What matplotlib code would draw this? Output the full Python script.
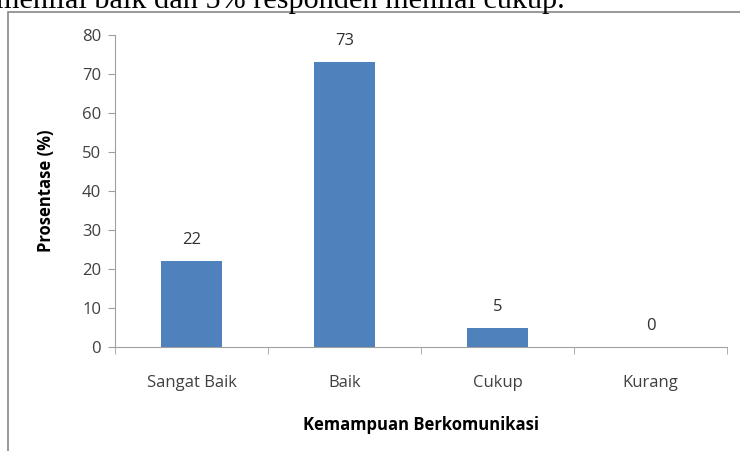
import matplotlib.pyplot as plt
from matplotlib.patches import Rectangle

kategori = ['Sangat Baik', 'Baik', 'Cukup', 'Kurang']
prosentase = [22, 73, 5, 0]
y_ticks = [0, 10, 20, 30, 40, 50, 60, 70, 80]

W, H = 740, 451
fig = plt.figure(figsize=(W / 100, H / 100), dpi=100)

# potongan kalimat dari halaman di atas grafik (terpotong seperti di gambar asli)
fig.text(-4 / W, 1 - 8 / H, 'menilai baik dan 5% responden menilai cukup.',
         family='Liberation Serif', fontsize=21.8, va='baseline', ha='left', color='black')

# bingkai grafik
fig.patches.append(Rectangle((8 / W, -0.1), 1.0, 1 - 12 / H + 0.1, transform=fig.transFigure,
                             fill=False, edgecolor='#909090', linewidth=1.3))

fs = 12
ax = fig.add_axes([115 / W, 1 - 347 / H, (727 - 115) / W, (347 - 35) / H])
x = range(len(kategori))
bars = ax.bar(x, prosentase, width=0.4, color='#4F81BD')
for b, v in zip(bars, prosentase):
    ax.text(b.get_x() + b.get_width() / 2, v + 3.3, str(v), ha='center', va='bottom',
            family='Open Sans', fontsize=fs, color='#303030')

ax.set_xlim(-0.5, len(kategori) - 0.5)
ax.set_ylim(0, 80)
ax.set_yticks(y_ticks)
ax.tick_params(axis='y', labelsize=fs, labelcolor='#404040', color='#a0a0a0',
               length=5, direction='out', pad=5)
ax.set_xticks(list(x))
ax.set_xticklabels(kategori, family='Open Sans', fontsize=fs, color='#404040')
ax.set_xticks([i - 0.5 for i in range(len(kategori) + 1)], minor=True)
ax.tick_params(axis='x', which='major', length=0, pad=20)
ax.tick_params(axis='x', which='minor', length=5, color='#a0a0a0')
for lab in ax.get_yticklabels():
    lab.set_family('Open Sans')

for s in ['top', 'right']:
    ax.spines[s].set_visible(False)
for s in ['left', 'bottom']:
    ax.spines[s].set_color('#a0a0a0')

ax.set_ylabel('Prosentase (%)', family='Open Sans', fontsize=fs, fontweight='bold', labelpad=19)
ax.set_xlabel('Kemampuan Berkomunikasi', family='Open Sans', fontsize=fs, fontweight='bold', labelpad=18)

fig.savefig('out.png', dpi=100)
